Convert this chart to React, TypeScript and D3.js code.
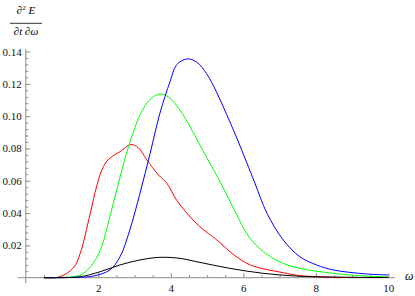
import React, {useEffect, useRef} from 'react'
import * as d3 from 'd3'

// curves: omega and dE/dt/domega per series
const redW = [0.5, 0.9, 1.31, 1.5, 1.77, 1.96, 2.14, 2.32, 2.6, 2.9, 3.1, 3.34, 3.66, 3.89, 4.16, 4.44, 4.8, 5.27, 5.72, 6.2, 7.1, 7.56, 8.5, 10]
const redE = [0, 0.0004, 0.006, 0.015, 0.039, 0.057, 0.0688, 0.074, 0.078, 0.0824, 0.0805, 0.0729, 0.0636, 0.0585, 0.048, 0.040, 0.0316, 0.0234, 0.0145, 0.0078, 0.0031, 0.0013, 0.0003, 0.0001]

const greenW = [0.5, 1.0, 1.31, 1.59, 1.86, 2.09, 2.32, 2.55, 2.78, 2.97, 3.15, 3.34, 3.52, 3.75, 3.98, 4.25, 4.53, 4.8, 5.08, 5.31, 5.75, 6.18, 6.65, 7.1, 7.56, 8.48, 9.4, 10]
const greenE = [0, 0.0002, 0.0006, 0.0027, 0.0089, 0.0192, 0.0378, 0.058, 0.077, 0.0904, 0.1007, 0.108, 0.112, 0.1137, 0.111, 0.1038, 0.0935, 0.0822, 0.0708, 0.0615, 0.042, 0.0245, 0.0145, 0.0089, 0.0058, 0.0027, 0.001, 0.0006]

const blueW = [0.5, 1.5, 1.86, 2.32, 2.6, 2.87, 3.15, 3.43, 3.7, 3.98, 4.16, 4.44, 4.71, 4.99, 5.27, 5.54, 5.82, 6.09, 6.32, 6.65, 7.1, 7.56, 8.02, 8.48, 9.4, 10]
const blueE = [0, 0.0003, 0.001, 0.0048, 0.013, 0.0296, 0.0523, 0.077, 0.1018, 0.1214, 0.1317, 0.1354, 0.1335, 0.1262, 0.1145, 0.101, 0.0865, 0.0715, 0.0585, 0.040, 0.0234, 0.013, 0.0079, 0.0048, 0.0023, 0.0017]

const blackW = [0.5, 1.5, 2.05, 2.6, 3.15, 3.7, 4.25, 4.71, 5.63, 6.55, 7.47, 8.4, 10]
const blackE = [0, 0.0006, 0.0037, 0.0079, 0.011, 0.0126, 0.012, 0.0099, 0.0058, 0.0027, 0.001, 0.0004, 0.0001]

const series = [
  {w: redW, e: redE, color: '#ff0000'},
  {w: greenW, e: greenE, color: '#00ff00'},
  {w: blueW, e: blueE, color: '#0000ff'},
  {w: blackW, e: blackE, color: '#000000'},
]

const xTicks = [2, 4, 6, 8, 10]
const yTicks = [0.02, 0.04, 0.06, 0.08, 0.10, 0.12, 0.14]

const width = 415
const height = 296

const App = () => {
  const ref = useRef<SVGSVGElement>(null)

  useEffect(() => {
    const svg = d3.select(ref.current)
    const font = "'Liberation Serif', 'DejaVu Serif', serif"

    const xScale = d3.scaleLinear().domain([0, 10]).range([25.8, 388.3])
    const yScale = d3.scaleLinear().domain([0, 0.14]).range([277.7, 51.5])
    const axisColor = '#8c8c8c'

    const g = svg.append('g')

    // minor ticks
    const xMinor = d3.range(0.5, 10.01, 0.5).filter(v => Math.abs(v / 2 - Math.round(v / 2)) > 0.01)
    g.append('g')
      .attr('transform', 'translate(0,' + yScale(0) + ')')
      .call(d3.axisBottom(xScale).tickValues(xMinor).tickSize(-2.5).tickFormat(() => ''))
    const yMinor = d3.range(0.004, 0.1401, 0.004).filter(v => Math.abs(v / 0.02 - Math.round(v / 0.02)) > 0.01)
    g.append('g')
      .attr('transform', 'translate(' + xScale(0) + ',0)')
      .call(d3.axisLeft(yScale).tickValues(yMinor).tickSize(-2.5).tickFormat(() => ''))

    // major ticks
    g.append('g')
      .attr('transform', 'translate(0,' + yScale(0) + ')')
      .call(d3.axisBottom(xScale).tickValues(xTicks).tickSize(-4.5).tickPadding(6.5).tickFormat(d3.format('d')))
    g.append('g')
      .attr('transform', 'translate(' + xScale(0) + ',0)')
      .call(d3.axisLeft(yScale).tickValues(yTicks).tickSize(-4.5).tickPadding(4).tickFormat(d3.format('.2f')))

    g.selectAll('.domain').remove()
    g.selectAll('.tick line').attr('stroke', axisColor)
    g.selectAll('.tick text')
      .style('font-family', font)
      .style('font-size', '11px')
      .attr('fill', '#111')

    // axis lines
    g.append('line')
      .attr('x1', 18).attr('x2', xScale(10.18))
      .attr('y1', yScale(0)).attr('y2', yScale(0))
      .attr('stroke', axisColor)
    g.append('line')
      .attr('x1', xScale(0)).attr('x2', xScale(0))
      .attr('y1', 283).attr('y2', yScale(0.1415))
      .attr('stroke', axisColor)

    const line = d3.line<number>()
      .x(d => xScale(d))
      .curve(d3.curveCatmullRom.alpha(0.5))

    series.forEach(s => {
      g.append('path')
        .datum(s.w)
        .attr('fill', 'none')
        .attr('stroke', s.color)
        .attr('stroke-width', 1)
        .attr('d', line.y((d, i) => yScale(s.e[i])))
    })

    // axis labels
    g.append('text')
      .attr('x', 405).attr('y', 280)
      .style('font-family', font).style('font-style', 'italic').style('font-size', '12px')
      .text('ω')

    const num = g.append('text')
      .attr('x', 26).attr('y', 14)
      .attr('text-anchor', 'middle')
      .style('font-family', font).style('font-style', 'italic').style('font-size', '11px')
    num.append('tspan').text('∂')
    num.append('tspan').style('font-size', '7px').style('font-style', 'normal').attr('dy', -4).text('2')
    num.append('tspan').attr('dy', 4).text(' E')

    g.append('line')
      .attr('x1', 10).attr('x2', 42)
      .attr('y1', 23.3).attr('y2', 23.3)
      .attr('stroke', '#000').attr('stroke-width', 0.8)

    g.append('text')
      .attr('x', 26).attr('y', 35)
      .attr('text-anchor', 'middle')
      .style('font-family', font).style('font-style', 'italic').style('font-size', '11px')
      .text('∂t ∂ω')

    return () => { svg.selectAll('g').remove() }
  }, [])

  return (
    <svg ref={ref} width={width} height={height}
      style={{position: 'absolute', left: 0, top: 0, background: '#fff'}}>
    </svg>
  )
}

export default App
